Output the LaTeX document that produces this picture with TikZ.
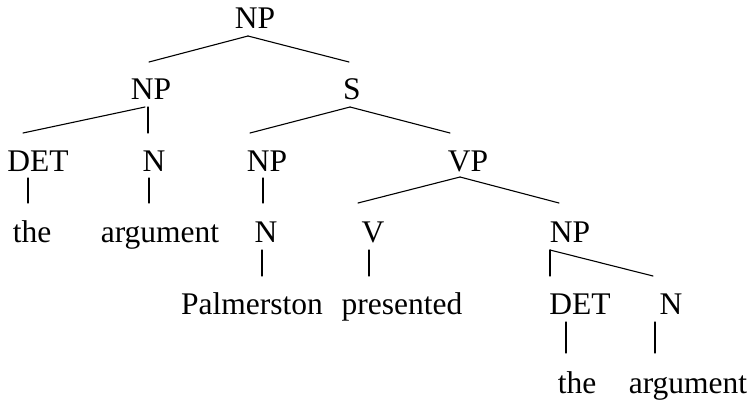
\documentclass[tikz,border=0pt]{standalone}
\usepackage{fontspec}
\setmainfont{Liberation Serif}
\usetikzlibrary{positioning}

\begin{document}
\begin{tikzpicture}[x=1pt,y=-1pt,
% Category and word style
    cat/.style={anchor=base,inner sep=0pt,
		font=\fontsize{31.5}{36}\selectfont},
    branch/.style={line width=1.1pt,line cap=round}
    ]
   \useasboundingbox (0,0) rectangle (754,399);
%%% Nodes of the parse tree, row by row
   \node [cat] (np0)  at (255,28)  {NP};
   \node [cat] (np1)  at (151,99)  {NP};
   \node [cat] (s)    at (352,99)  {S};
   \node [cat] (det1) at (38,171)  {DET};
   \node [cat] (n1)   at (154,171) {N};
   \node [cat] (np2)  at (267,171) {NP};
   \node [cat] (vp)   at (468,171) {VP};
   \node [cat] (the1) at (32,242)  {the};
   \node [cat] (arg1) at (160,242) {argument};
   \node [cat] (n2)   at (266,242) {N};
   \node [cat] (v)    at (373,242) {V};
   \node [cat] (np3)  at (570,242) {NP};
   \node [cat] (palm) at (252,314) {Palmerston};
   \node [cat] (pres) at (402,314) {presented};
   \node [cat] (det2) at (580,314) {DET};
   \node [cat] (n3)   at (671,314) {N};
   \node [cat] (the2) at (577,393) {the};
   \node [cat] (arg2) at (688,393) {argument};
%%% Branches
   \begin{scope}[branch]
       \draw ([xshift=-7pt,yshift=-8pt]np0.base) -- ([xshift=-2pt,yshift=37pt]np1.base);
       \draw ([xshift=-7pt,yshift=-8pt]np0.base) -- ([xshift=-3pt,yshift=37pt]s.base);
       \draw ([xshift=-6pt,yshift=-8pt]np1.base) -- ([xshift=-15pt,yshift=38pt]det1.base);
       \draw ([xshift=-3pt,yshift=-8pt]np1.base) -- ([xshift=-6pt,yshift=38pt]n1.base);
       \draw ([xshift=-2pt,yshift=-8pt]s.base) -- ([xshift=-17pt,yshift=38pt]np2.base);
       \draw ([xshift=-2pt,yshift=-8pt]s.base) -- ([xshift=-18pt,yshift=38pt]vp.base);
       \draw ([xshift=-10pt,yshift=-7pt]det1.base) -- ([xshift=-4pt,yshift=39pt]the1.base);
       \draw ([xshift=-5pt,yshift=-7pt]n1.base) -- ([xshift=-11pt,yshift=39pt]arg1.base);
       \draw ([xshift=-4pt,yshift=-7pt]np2.base) -- ([xshift=-3pt,yshift=39pt]n2.base);
       \draw ([xshift=-8pt,yshift=-6pt]vp.base) -- ([xshift=-15pt,yshift=39pt]v.base);
       \draw ([xshift=-8pt,yshift=-6pt]vp.base) -- ([xshift=-11pt,yshift=39pt]np3.base);
       \draw ([xshift=-4pt,yshift=-8pt]n2.base) -- ([xshift=10pt,yshift=38pt]palm.base);
       \draw ([xshift=-4pt,yshift=-8pt]v.base) -- ([xshift=-33pt,yshift=38pt]pres.base);
       \draw ([xshift=-20pt,yshift=-8pt]np3.base) -- ([xshift=-30pt,yshift=38pt]det2.base);
       \draw ([xshift=-20pt,yshift=-8pt]np3.base) -- ([xshift=-18pt,yshift=38pt]n3.base);
       \draw ([xshift=-14pt,yshift=-8pt]det2.base) -- ([xshift=-11pt,yshift=40pt]the2.base);
       \draw ([xshift=-16pt,yshift=-8pt]n3.base) -- ([xshift=-33pt,yshift=40pt]arg2.base);
   \end{scope}
\end{tikzpicture}
\end{document}
